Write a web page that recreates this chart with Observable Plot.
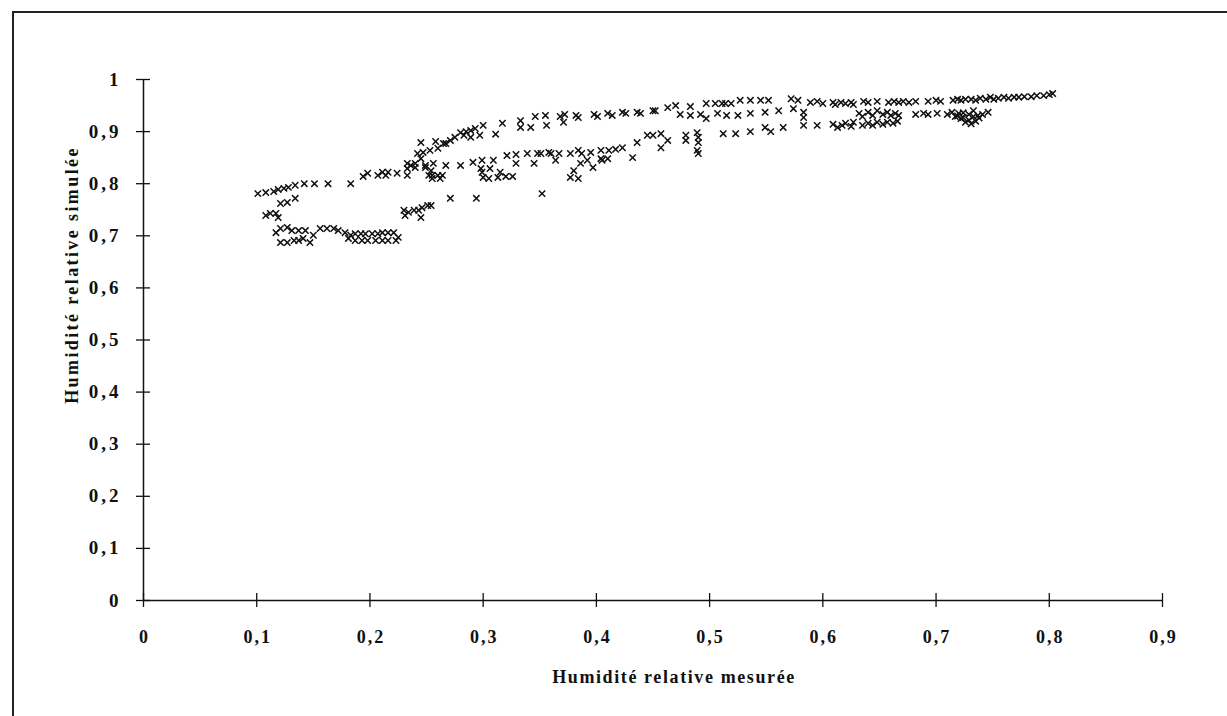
<!DOCTYPE html>
<html>
<head>
<meta charset="utf-8">
<script src="https://cdn.jsdelivr.net/npm/d3@7"></script>
<script src="https://cdn.jsdelivr.net/npm/@observablehq/plot@0.6"></script>
<style>
  html, body { margin: 0; padding: 0; background: #fff; }
  #wrap { position: relative; width: 1227px; height: 716px; overflow: hidden; }
  #border { position: absolute; left: 12px; top: 11px; width: 1300px; height: 800px;
            border-left: 2px solid #222; border-top: 2px solid #222; }
  #chart { position: absolute; left: 0; top: 0; }
  .xlab text { letter-spacing: 2px; }
  .ylab text { letter-spacing: 3px; }
  .xtitle text { letter-spacing: 1.6px; }
  .ytitle text { letter-spacing: 2.4px; }
</style>
</head>
<body>
<div id="wrap"><div id="border"></div><div id="chart"></div></div>
<script>
const xTicks = [0, 0.1, 0.2, 0.3, 0.4, 0.5, 0.6, 0.7, 0.8, 0.9];
const yTicks = [0, 0.1, 0.2, 0.3, 0.4, 0.5, 0.6, 0.7, 0.8, 0.9, 1];
const xTitle = "Humidité relative mesurée";
const yTitle = "Humidité relative simulée";

// upper branch of the loop [measured, simulated]
const upperBranch = [
  [0.101,0.781],[0.108,0.783],[0.115,0.785],[0.119,0.789],[0.124,0.791],[0.128,0.793],[0.134,0.797],
  [0.142,0.800],[0.151,0.800],[0.163,0.800],[0.183,0.800],[0.194,0.814],[0.198,0.820],[0.207,0.816],
  [0.211,0.822],[0.214,0.816],[0.216,0.822],[0.224,0.820],[0.233,0.829],[0.236,0.835],[0.240,0.831],
  [0.233,0.816],[0.249,0.831],[0.254,0.825],[0.255,0.816],[0.260,0.816],[0.264,0.816],
  [0.242,0.858],[0.247,0.860],[0.253,0.864],[0.260,0.868],[0.267,0.877],[0.245,0.848],
  [0.245,0.879],[0.258,0.881],[0.265,0.877],[0.271,0.883],[0.275,0.889],[0.280,0.898],[0.285,0.900],
  [0.289,0.902],[0.293,0.906],[0.300,0.912],[0.317,0.916],[0.333,0.921],[0.346,0.929],
  [0.283,0.893],[0.289,0.889],[0.297,0.893],[0.311,0.895],[0.333,0.908],[0.342,0.908],[0.356,0.912],[0.371,0.918],
  [0.355,0.931],[0.368,0.929],[0.372,0.933],[0.382,0.931],[0.384,0.927],[0.398,0.933],[0.401,0.929],
  [0.410,0.935],[0.414,0.931],[0.423,0.937],[0.426,0.935],[0.436,0.937],[0.439,0.935],[0.450,0.940],
  [0.452,0.940],[0.463,0.946],[0.470,0.950],[0.474,0.933],[0.483,0.948],[0.483,0.931],[0.492,0.933],
  [0.497,0.954],[0.497,0.925],[0.505,0.954],[0.507,0.935],[0.511,0.954],[0.514,0.954],[0.519,0.954],
  [0.515,0.931],[0.525,0.931],[0.527,0.960],[0.536,0.960],[0.536,0.935],[0.545,0.960],[0.549,0.937],
  [0.552,0.960],[0.561,0.940],[0.572,0.963],[0.578,0.960],[0.574,0.944],[0.583,0.937],[0.583,0.927],
  [0.589,0.956],[0.595,0.958],[0.600,0.954],[0.609,0.956],[0.611,0.952],[0.616,0.956],[0.620,0.954],
  [0.625,0.956],[0.627,0.952],[0.636,0.958],[0.640,0.956],[0.648,0.958],[0.658,0.956],[0.663,0.958],
  [0.667,0.956],[0.671,0.958],[0.676,0.956],[0.682,0.958],[0.693,0.958],[0.700,0.960],[0.704,0.958],
  [0.715,0.960],[0.719,0.962],[0.722,0.960],[0.726,0.962],[0.731,0.962],[0.735,0.960],[0.739,0.964],
  [0.744,0.962],[0.748,0.966],[0.751,0.962],[0.755,0.964],[0.760,0.966],[0.764,0.964],[0.769,0.966],
  [0.773,0.966],[0.778,0.967],[0.784,0.967],[0.789,0.969],[0.795,0.969],[0.800,0.971],[0.803,0.973]
];

// middle branch [measured, simulated]
const middleBranch = [
  [0.233,0.839],[0.240,0.839],[0.249,0.835],[0.256,0.839],[0.267,0.835],[0.280,0.835],[0.291,0.841],
  [0.299,0.845],[0.309,0.845],[0.321,0.854],[0.329,0.856],[0.339,0.858],[0.348,0.858],[0.351,0.858],
  [0.358,0.860],[0.360,0.858],[0.367,0.858],[0.377,0.858],[0.384,0.864],[0.387,0.858],[0.395,0.860],
  [0.404,0.864],[0.411,0.864],[0.417,0.866],[0.423,0.869],[0.436,0.879],[0.445,0.893],[0.450,0.893],
  [0.457,0.896],[0.463,0.883],[0.457,0.869],[0.479,0.893],[0.479,0.883],[0.489,0.898],[0.490,0.889],
  [0.490,0.879],[0.489,0.864],[0.490,0.858],[0.512,0.896],[0.523,0.896],[0.536,0.900],[0.549,0.908],
  [0.554,0.900],[0.565,0.908],[0.583,0.912],[0.595,0.912],
  [0.252,0.816],[0.255,0.810],[0.262,0.810],[0.300,0.812],[0.305,0.810],[0.313,0.812],[0.320,0.814],
  [0.326,0.814],[0.298,0.829],[0.299,0.822],[0.306,0.829],[0.315,0.822],[0.329,0.839],[0.345,0.839],
  [0.364,0.845],[0.377,0.812],[0.384,0.810],[0.386,0.839],[0.392,0.845],[0.397,0.831],[0.404,0.848],
  [0.405,0.845],[0.410,0.848],[0.432,0.850],[0.380,0.825],
  [0.352,0.781],[0.271,0.772],[0.294,0.772],
  [0.632,0.935],[0.635,0.929],[0.640,0.937],[0.644,0.931],[0.648,0.940],[0.653,0.933],[0.657,0.937],
  [0.660,0.931],[0.664,0.935],[0.667,0.931],[0.682,0.933],[0.689,0.935],[0.693,0.933],[0.701,0.935],
  [0.710,0.933],[0.714,0.937],[0.717,0.929],[0.720,0.935],[0.724,0.927],[0.729,0.933],[0.733,0.929],
  [0.737,0.931],[0.746,0.937],
  [0.722,0.925],[0.726,0.918],[0.729,0.922],[0.731,0.915],[0.735,0.920],[0.738,0.926],[0.741,0.933],
  [0.733,0.940],[0.724,0.936],[0.719,0.930],
  [0.609,0.914],[0.613,0.908],[0.617,0.912],[0.620,0.916],[0.625,0.910],[0.627,0.918],[0.635,0.912],
  [0.640,0.916],[0.644,0.912],[0.648,0.918],[0.653,0.914],[0.657,0.918],[0.662,0.916],[0.666,0.920]
];

// lower loop [measured, simulated]
const lowerLoop = [
  [0.121,0.762],[0.127,0.764],[0.134,0.772],[0.108,0.739],[0.112,0.743],[0.117,0.743],[0.119,0.735],
  [0.117,0.706],[0.121,0.714],[0.127,0.716],[0.131,0.710],[0.137,0.710],[0.143,0.710],[0.121,0.687],
  [0.127,0.687],[0.133,0.691],[0.137,0.691],[0.141,0.695],[0.147,0.687],[0.150,0.701],[0.156,0.714],
  [0.162,0.714],[0.168,0.714],[0.172,0.710],[0.178,0.706],[0.183,0.701],[0.187,0.704],[0.192,0.704],
  [0.196,0.704],[0.202,0.704],[0.207,0.704],[0.211,0.706],[0.216,0.706],[0.221,0.706],[0.181,0.695],
  [0.187,0.691],[0.193,0.691],[0.198,0.691],[0.205,0.691],[0.211,0.691],[0.216,0.691],[0.223,0.691],
  [0.225,0.697],
  [0.230,0.749],[0.234,0.745],[0.239,0.749],[0.243,0.749],[0.246,0.754],[0.251,0.758],[0.254,0.758],
  [0.245,0.735],[0.231,0.739]
];

const points = [...upperBranch, ...middleBranch, ...lowerLoop].map(([x, y]) => ({x, y}));
const fmt = d => String(d).replace(".", ",");
const font = "Liberation Serif";

const chart = Plot.plot({
  width: 1227,
  height: 716,
  marginLeft: 143,
  marginRight: 65,
  marginTop: 79,
  marginBottom: 116,
  x: {domain: [0, 0.9]},
  y: {domain: [0, 1]},
  style: {fontFamily: font, fontWeight: "bold", background: "transparent", color: "#111"},
  marks: [
    Plot.ruleY([0], {stroke: "#111", strokeWidth: 1.5}),
    Plot.ruleX([0], {stroke: "#111", strokeWidth: 1.5}),
    Plot.axisX(xTicks, {tickSize: 14, dy: -7, tickFormat: () => "", label: null, stroke: "#111", strokeWidth: 1.3}),
    Plot.axisY(yTicks, {tickSize: 14, dx: 7, tickFormat: () => "", label: null, stroke: "#111", strokeWidth: 1.3}),
    Plot.axisX(xTicks, {className: "xlab", tickSize: 0, tickPadding: 30, dx: 1, tickFormat: fmt, label: null, fontSize: 18, fontWeight: "bold", fontFamily: font, fill: "#111"}),
    Plot.axisY(yTicks, {className: "ylab", tickSize: 0, tickPadding: 22, tickFormat: fmt, label: null, fontSize: 19, fontWeight: "bold", fontFamily: font, fill: "#111"}),
    Plot.text([xTitle], {className: "xtitle", frameAnchor: "bottom", dx: 21, dy: 82, lineAnchor: "bottom", textAnchor: "middle", text: d => d, fontSize: 18, fontWeight: "bold", fontFamily: font, fill: "#111"}),
    Plot.text([yTitle], {className: "ytitle", frameAnchor: "left", dx: -71, dy: -65, rotate: -90, textAnchor: "middle", lineAnchor: "middle", text: d => d, fontSize: 18, fontWeight: "bold", fontFamily: font, fill: "#111"}),
    Plot.dot(points, {x: "x", y: "y", symbol: "times", r: 3, stroke: "#111", strokeWidth: 1.5})
  ]
});
document.getElementById("chart").appendChild(chart);
</script>
</body>
</html>
